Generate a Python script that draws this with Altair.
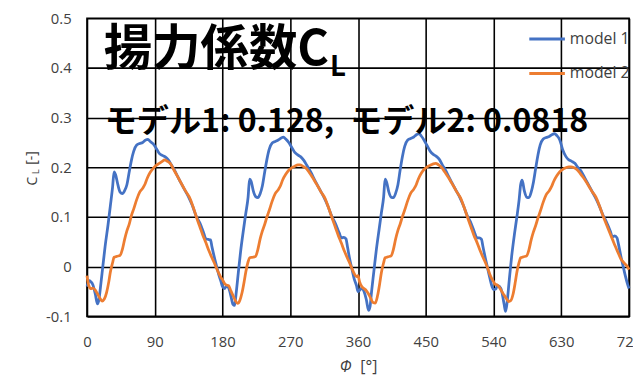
import altair as alt
import pandas as pd

# ---- data (cycle-relative angle offsets, 4 cycles of 180 deg) ----
cycle_starts = [0, 180, 360, 540]

b_off = [0, 3, 5, 8, 11, 14, 16, 18, 21, 24, 28, 31, 34, 36, 38, 41, 44, 47, 50, 53,
         56, 59, 62, 66, 70, 74, 78, 81, 84, 88, 92, 96, 100, 104, 108, 112, 116, 120,
         125, 130, 135, 140, 145, 150, 155, 158, 161, 164, 166, 169, 172, 175, 178]

model1_c1 = [-0.040, -0.028, -0.030, -0.037, -0.055, -0.075, -0.065, -0.040, 0.000, 0.040,
             0.085, 0.122, 0.160, 0.191, 0.185, 0.165, 0.150, 0.147, 0.153, 0.165,
             0.190, 0.214, 0.232, 0.245, 0.248, 0.250, 0.255, 0.256, 0.252, 0.247,
             0.238, 0.228, 0.224, 0.221, 0.215, 0.205, 0.195, 0.183, 0.168, 0.154,
             0.140, 0.123, 0.102, 0.088, 0.068, 0.056, 0.055, 0.054, 0.040, 0.020,
             0.002, -0.016, -0.030]
model1_c2 = [-0.040, -0.044, -0.039, -0.042, -0.058, -0.076, -0.078, -0.055, -0.012, 0.030,
             0.076, 0.108, 0.140, 0.176, 0.172, 0.152, 0.141, 0.139, 0.147, 0.163,
             0.190, 0.216, 0.236, 0.249, 0.252, 0.255, 0.259, 0.261, 0.257, 0.250,
             0.240, 0.230, 0.225, 0.221, 0.214, 0.204, 0.194, 0.182, 0.167, 0.153,
             0.139, 0.122, 0.102, 0.087, 0.068, 0.058, 0.059, 0.056, 0.040, 0.015,
             -0.005, -0.025, -0.038]
model1_c3 = [-0.050, -0.046, -0.043, -0.050, -0.066, -0.088, -0.080, -0.050, -0.010, 0.030,
             0.075, 0.108, 0.140, 0.176, 0.170, 0.150, 0.140, 0.139, 0.148, 0.165,
             0.195, 0.222, 0.242, 0.255, 0.258, 0.261, 0.266, 0.268, 0.263, 0.254,
             0.243, 0.232, 0.226, 0.222, 0.216, 0.205, 0.195, 0.183, 0.168, 0.154,
             0.140, 0.123, 0.103, 0.088, 0.068, 0.058, 0.058, 0.055, 0.040, 0.018,
             -0.002, -0.022, -0.040]
model1_c4 = [-0.046, -0.045, -0.038, -0.040, -0.050, -0.075, -0.090, -0.072, -0.025, 0.020,
             0.068, 0.100, 0.135, 0.165, 0.174, 0.152, 0.140, 0.139, 0.150, 0.170,
             0.198, 0.225, 0.245, 0.257, 0.260, 0.262, 0.266, 0.268, 0.264, 0.255,
             0.235, 0.222, 0.215, 0.212, 0.208, 0.200, 0.193, 0.182, 0.168, 0.154,
             0.140, 0.124, 0.105, 0.090, 0.072, 0.060, 0.062, 0.058, 0.045, 0.022,
             0.002, -0.018, -0.035]

o_off = [0, 2, 5, 8, 11, 14, 17, 20, 23, 26, 29, 31, 34, 36, 40, 44, 47, 50, 53, 56,
         59, 62, 66, 70, 74, 77, 80, 84, 88, 92, 96, 100, 103, 107, 111, 115, 119, 123,
         127, 131, 136, 141, 146, 150, 154, 158, 162, 166, 169, 172, 175, 178]

model2_c1 = [-0.018, -0.036, -0.044, -0.043, -0.047, -0.055, -0.063, -0.069, -0.065, -0.052,
             -0.030, -0.011, 0.008, 0.019, 0.021, 0.023, 0.035, 0.055, 0.072, 0.085,
             0.103, 0.116, 0.135, 0.150, 0.158, 0.166, 0.178, 0.190, 0.198, 0.204,
             0.208, 0.212, 0.215, 0.212, 0.207, 0.196, 0.185, 0.174, 0.163, 0.152,
             0.140, 0.120, 0.097, 0.080, 0.063, 0.048, 0.032, 0.018, 0.008, -0.003,
             -0.013, -0.022]
model2_c2 = [-0.026, -0.032, -0.037, -0.038, -0.048, -0.058, -0.068, -0.074, -0.068, -0.052,
             -0.028, -0.010, 0.010, 0.018, 0.019, 0.021, 0.035, 0.056, 0.072, 0.085,
             0.100, 0.113, 0.132, 0.147, 0.155, 0.163, 0.175, 0.186, 0.194, 0.199,
             0.202, 0.205, 0.205, 0.202, 0.198, 0.190, 0.181, 0.171, 0.161, 0.150,
             0.138, 0.118, 0.096, 0.079, 0.062, 0.047, 0.031, 0.017, 0.007, -0.004,
             -0.014, -0.020]
model2_c3 = [-0.018, -0.030, -0.040, -0.044, -0.048, -0.055, -0.064, -0.072, -0.073, -0.058,
             -0.032, -0.012, 0.008, 0.018, 0.020, 0.022, 0.035, 0.056, 0.073, 0.086,
             0.101, 0.114, 0.133, 0.148, 0.156, 0.164, 0.176, 0.188, 0.196, 0.201,
             0.204, 0.207, 0.208, 0.205, 0.200, 0.191, 0.182, 0.172, 0.162, 0.151,
             0.139, 0.119, 0.097, 0.080, 0.063, 0.049, 0.033, 0.019, 0.009, -0.002,
             -0.015, -0.025]
model2_c4 = [-0.030, -0.035, -0.037, -0.042, -0.050, -0.057, -0.064, -0.070, -0.068, -0.055,
             -0.030, -0.011, 0.009, 0.018, 0.020, 0.022, 0.034, 0.054, 0.070, 0.083,
             0.098, 0.111, 0.130, 0.145, 0.153, 0.161, 0.172, 0.183, 0.191, 0.196,
             0.199, 0.201, 0.201, 0.199, 0.195, 0.188, 0.180, 0.171, 0.161, 0.151,
             0.140, 0.121, 0.100, 0.085, 0.070, 0.055, 0.040, 0.026, 0.016, 0.010,
             0.005, 0.000]

end_phi = 720
model1_end = -0.044
model2_end = -0.006

series_names = ["model 1", "model 2"]
series_colors = ["#4472C4", "#ED7D31"]

title_main = "揚力係数C"
title_sub = "L"
mean_text = "モデル1: 0.128,\u2002モデル2: 0.0818"
x_ticks = [0, 90, 180, 270, 360, 450, 540, 630, 720]
y_ticks = [-0.1, 0, 0.1, 0.2, 0.3, 0.4, 0.5]

# ---- build long table ----
rows = []
for start, vals in zip(cycle_starts, [model1_c1, model1_c2, model1_c3, model1_c4]):
    for o, v in zip(b_off, vals):
        rows.append({"phi": start + o, "cl": v, "model": series_names[0]})
rows.append({"phi": end_phi, "cl": model1_end, "model": series_names[0]})
for start, vals in zip(cycle_starts, [model2_c1, model2_c2, model2_c3, model2_c4]):
    for o, v in zip(o_off, vals):
        rows.append({"phi": start + o, "cl": v, "model": series_names[1]})
rows.append({"phi": end_phi, "cl": model2_end, "model": series_names[1]})
df = pd.DataFrame(rows)

W, H = 549, 302
LABEL_FONT = "Open Sans"
JP_FONT = "Noto Sans CJK JP"
GREY = "#404040"

lines = alt.Chart(df).mark_line(strokeWidth=2.8, interpolate="monotone").encode(
    x=alt.X("phi:Q",
            scale=alt.Scale(domain=[0, 720], nice=False, zero=False),
            axis=alt.Axis(values=x_ticks, title=None, grid=True, ticks=False, tickSize=0,
                          domain=False, labelPadding=18, labelFlush=False,
                          labelOverlap=False)),
    y=alt.Y("cl:Q",
            scale=alt.Scale(domain=[-0.1, 0.5], nice=False, zero=False),
            axis=alt.Axis(values=y_ticks, title=None, grid=True, ticks=False, tickSize=0,
                          domain=False, labelPadding=16, labelFlush=False,
                          labelOverlap=False,
                          labelExpr="replace(format(datum.value, '~g'), '\u2212', '-')")),
    color=alt.Color("model:N",
                    scale=alt.Scale(domain=series_names, range=series_colors),
                    legend=alt.Legend(title=None, orient="none", legendX=446, legendY=1,
                                      symbolType="stroke", symbolSize=1300,
                                      symbolStrokeWidth=3, labelFont=LABEL_FONT,
                                      labelFontSize=16, labelColor=GREY,
                                      labelOffset=3, rowPadding=7, padding=0)),
    order="phi:Q",
)

def txt(s, x, y, size, weight="normal", font=JP_FONT, angle=0, align="left",
        style="normal", color="black"):
    return alt.Chart(pd.DataFrame({"t": [s]})).mark_text(
        font=font, fontSize=size, fontWeight=weight, align=align,
        baseline="alphabetic", angle=angle, fontStyle=style, color=color
    ).encode(text="t:N", x=alt.value(x), y=alt.value(y))

texts = [
    txt(title_main, 17, 47, 49, "bold"),
    txt(title_sub, 246, 59, 28, "bold"),
    txt(mean_text, 18, 115, 32.5, "bold"),
    # y-axis title C_L [-]
    txt("C", -51, 165, 14, font=LABEL_FONT, angle=270, align="center", color=GREY),
    txt("L", -49, 155.5, 9, font=LABEL_FONT, angle=270, align="center", color=GREY),
    txt("[-]", -52, 141.5, 14, font=LABEL_FONT, angle=270, align="center", color=GREY),
    # x-axis title Φ [°]
    txt("Φ", 262, 358, 16, font=LABEL_FONT, align="center", style="italic", color=GREY),
    txt("[°]", 285.5, 358, 16, font=LABEL_FONT, align="center", color=GREY),
]

chart = alt.layer(lines, *texts).properties(
    width=W, height=H,
    autosize=alt.AutoSizeParams(type="none"),
    padding={"left": 80, "top": 8, "right": 4, "bottom": 59},
).configure_view(
    stroke="black", strokeWidth=1.6
).configure_axis(
    gridColor="black", gridWidth=1.6, gridOpacity=1,
    labelFont=LABEL_FONT, labelFontSize=15, labelColor=GREY,
)

chart.save("out.html", embed_options={"renderer": "svg", "actions": False})
